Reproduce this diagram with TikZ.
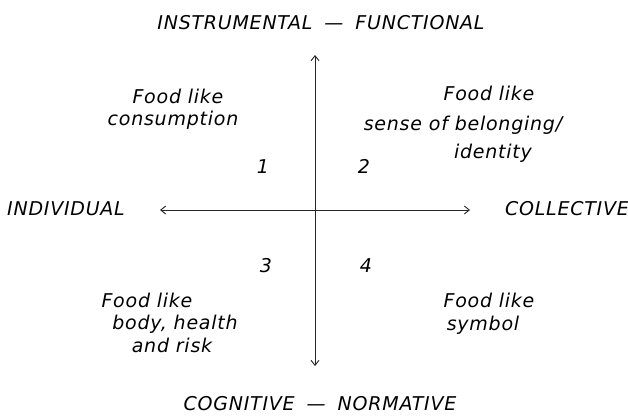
\documentclass[tikz,border=0pt]{standalone}
\usepackage{fontspec}
\setmainfont{DejaVu Sans}[LetterSpace=4]
\usetikzlibrary{arrows.meta}
\tikzset{
  lbl/.style={inner sep=0pt, anchor=base, font=\fontsize{19}{22}\selectfont\itshape},
  axis/.style={line width=0.9pt, black!85, {Straight Barb[length=5pt,width=8pt]}-{Straight Barb[length=5pt,width=8pt]}}
}
\begin{document}
\begin{tikzpicture}[x=1pt,y=-1pt]
\useasboundingbox (0,0) rectangle (628,415);
\coordinate (W) at (160,210);
\coordinate (E) at (470,210);
\coordinate (N) at (315,55);
\coordinate (S) at (315,366);
\draw[axis] (W) -- (E);
\draw[axis] (N) -- (S);
% axis labels
\node[lbl] (top) at (321,29) {INSTRUMENTAL\hspace{12pt}—\hspace{12pt}FUNCTIONAL};
\node[lbl] (bot) at (320,410) {COGNITIVE\hspace{12pt}—\hspace{12pt}NORMATIVE};
\node[lbl] (ind) at (66,215) {INDIVIDUAL};
\node[lbl] (col) at (567,215) {COLLECTIVE};
% quadrant numbers
\node[lbl] (n1) at (263,173) {1};
\node[lbl] (n2) at (364,173) {2};
\node[lbl] (n3) at (266,272) {3};
\node[lbl] (n4) at (366,272) {4};
% quadrant 1
\node[lbl] (q1a) at (178,103) {Food like};
\node[lbl] (q1b) at (173,125) {consumption};
% quadrant 2
\node[lbl] (q2a) at (489,100) {Food like};
\node[lbl] (q2b) at (463,130) {sense of belonging/};
\node[lbl] (q2c) at (493,158) {identity};
% quadrant 3
\node[lbl] (q3a) at (147,307) {Food like};
\node[lbl] (q3b) at (175,329) {body, health};
\node[lbl] (q3c) at (172,352) {and risk};
% quadrant 4
\node[lbl] (q4a) at (489,307) {Food like};
\node[lbl] (q4b) at (483,330) {symbol};
\end{tikzpicture}
\end{document}
